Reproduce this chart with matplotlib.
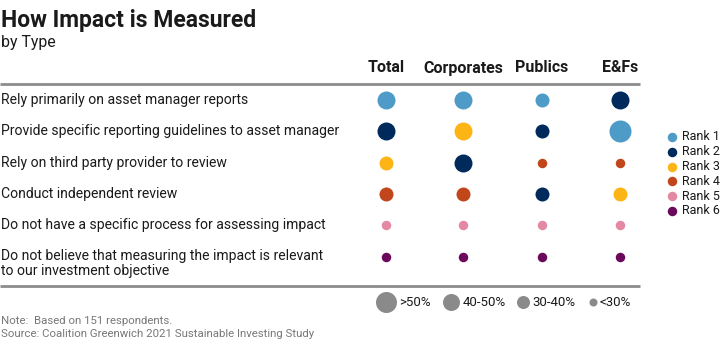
import matplotlib
matplotlib.use("Agg")
import matplotlib.pyplot as plt

# data
columns = ["Total", "Corporates", "Publics", "E&Fs"]
rows = [
    "Rely primarily on asset manager reports",
    "Provide specific reporting guidelines to asset manager",
    "Rely on third party provider to review",
    "Conduct independent review",
    "Do not have a specific process for assessing impact",
    "Do not believe that measuring the impact is relevant\nto our investment objective",
]
# rank of each answer per column (1 = most common)
ranks = [
    [1, 1, 1, 2],
    [2, 3, 2, 1],
    [3, 2, 4, 4],
    [4, 4, 2, 3],
    [5, 5, 5, 5],
    [6, 6, 6, 6],
]
# share bucket: 0 = >50%, 1 = 40-50%, 2 = 30-40%, 3 = <30%
buckets = [
    [1, 1, 2, 1],
    [1, 1, 2, 0],
    [2, 1, 3, 3],
    [2, 2, 2, 2],
    [3, 3, 3, 3],
    [3, 3, 3, 3],
]
bucket_labels = [">50%", "40-50%", "30-40%", "<30%"]
rank_labels = ["Rank 1", "Rank 2", "Rank 3", "Rank 4", "Rank 5", "Rank 6"]

# style
rank_colors = ["#4f9bc8", "#002a5c", "#fdb515", "#c2461c", "#e389a3", "#6b0a5c"]
bucket_diam = [22, 18, 14, 9.5]   # pixels
font = ["Roboto", "DejaVu Sans"]
plt.rcParams["font.family"] = font

col_x = [386, 463, 542, 620]
row_y0, row_step = 100, 31.3

fig = plt.figure(figsize=(7.2, 3.5), dpi=100)
ax = fig.add_axes([0, 0, 1, 1])
ax.set_xlim(0, 720)
ax.set_ylim(350, 0)
ax.axis("off")

def s_of(d):
    return (d * 0.72) ** 2

# titles
ax.text(1, 21, "How Impact is Measured", fontsize=16.5, fontweight="bold", va="center", color="#1a1a1a")
ax.text(1, 42, "by Type", fontsize=11.4, va="center", color="#1a1a1a")

# headers
for x, c in zip(col_x, columns):
    ax.text(x, 72.5, c, fontsize=11.5, fontweight="bold", ha="center", va="baseline", color="#1a1a1a")
ax.plot([0, 640], [84, 84], color="#8c8c8c", lw=2, solid_capstyle="butt")
ax.plot([0, 640], [286, 286], color="#8c8c8c", lw=2, solid_capstyle="butt")

# rows
for i, label in enumerate(rows):
    y = row_y0 + i * row_step
    if "\n" in label:
        ax.text(1, y - 7.5, label, fontsize=10.1, va="top", linespacing=1.1, color="#1a1a1a")
    else:
        ax.text(1, y, label, fontsize=10.1, va="center", color="#1a1a1a")
    for j, x in enumerate(col_x):
        ax.scatter(x, y, s=s_of(bucket_diam[buckets[i][j]]),
                   color=rank_colors[ranks[i][j] - 1], linewidths=0, zorder=3)

# rank legend
for k, lab in enumerate(rank_labels):
    y = 137 + k * 14.8
    ax.scatter(672, y, s=s_of(9.5), color=rank_colors[k], linewidths=0)
    ax.text(682, y, lab, fontsize=9, va="center", color="#1a1a1a")

# size legend
size_x = [386, 451, 523, 593]
for k, lab in enumerate(bucket_labels):
    d = bucket_diam[k] - (1 if k < 3 else 1.5)
    ax.scatter(size_x[k], 302, s=s_of(d), color="#8a8a8a", linewidths=0)
    ax.text(size_x[k] + d / 2 + 3, 302, lab, fontsize=9.5, va="center", color="#1a1a1a")

# notes
ax.text(1, 321, "Note:  Based on 151 respondents.", fontsize=8.2, va="center", color="#777777")
ax.text(1, 334, "Source: Coalition Greenwich 2021 Sustainable Investing Study", fontsize=8.2, va="center", color="#777777")

fig.savefig("out.png", dpi=100)
